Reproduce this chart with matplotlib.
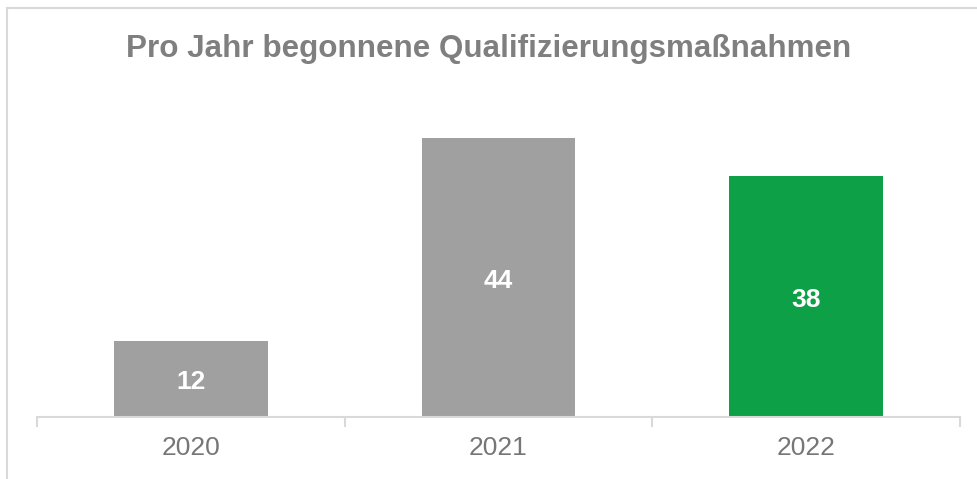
import matplotlib
matplotlib.use("Agg")
import matplotlib.pyplot as plt
from matplotlib.lines import Line2D

years = ["2020", "2021", "2022"]
values = [12, 44, 38]
bar_colors = ["#a0a0a0", "#a0a0a0", "#0ea047"]
title = "Pro Jahr begonnene Qualifizierungsmaßnahmen"

plt.rcParams['font.family'] = ['Liberation Sans', 'DejaVu Sans']

W, H = 978, 479
fig = plt.figure(figsize=(W / 100, H / 100), dpi=100)

# outer chart frame (top and left visible)
fig.add_artist(Line2D([7.5 / W, 7.5 / W], [-0.1, (H - 8) / H], transform=fig.transFigure,
                      color="#d9d9d9", lw=1.5))
fig.add_artist(Line2D([7.5 / W, 1.1], [(H - 8) / H, (H - 8) / H], transform=fig.transFigure,
                      color="#d9d9d9", lw=1.5))

ax = fig.add_axes([37 / W, 62 / H, 923 / W, 317 / H])
x = list(range(len(years)))
bars = ax.bar(x, values, width=0.5, color=bar_colors)
ax.set_xlim(-0.5, len(years) - 0.5)
ax.set_ylim(0, 50)

for b, v in zip(bars, values):
    ax.text(b.get_x() + b.get_width() / 2, v / 2 - 0.5, str(v), ha="center", va="center",
            color="white", fontsize=19, fontweight="bold")

for s in ["top", "right", "left"]:
    ax.spines[s].set_visible(False)
ax.spines["bottom"].set_color("#d9d9d9")
ax.spines["bottom"].set_linewidth(1.5)
ax.set_yticks([])
ax.set_xticks([-0.5, 0.5, 1.5, 2.5], minor=True)
ax.set_xticks(x)
ax.set_xticklabels(years, fontsize=19, color="#767676")
ax.tick_params(axis="x", which="major", length=0, pad=14)
ax.tick_params(axis="x", which="minor", length=7, width=1.5, color="#d9d9d9")

fig.text(0.5, (H - 49) / H, title, ha="center", va="center", fontsize=22.6,
         fontweight="bold", color="#7f7f7f")

fig.savefig("out.png", dpi=100)
